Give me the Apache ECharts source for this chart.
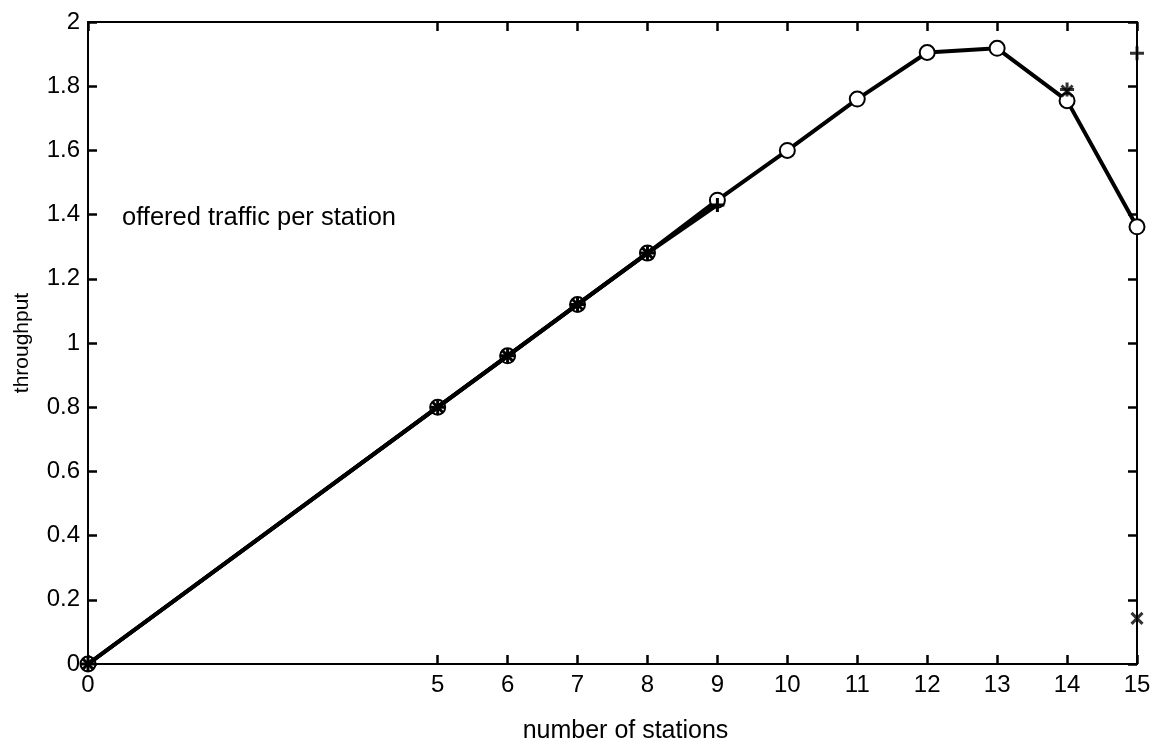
<!DOCTYPE html>
<html>
<head>
<meta charset="utf-8">
<script src="https://cdn.jsdelivr.net/npm/echarts@6/dist/echarts.min.js"></script>
<style>html,body{margin:0;padding:0;background:#fff}#c{width:1159px;height:749px}</style>
</head>
<body>
<div id="c"></div>
<script>
const xTickValues = [0, 5, 6, 7, 8, 9, 10, 11, 12, 13, 14, 15];
const circleX = [0, 5, 6, 7, 8, 9, 10, 11, 12, 13, 14, 15];
const circleY = [0, 0.80, 0.96, 1.12, 1.28, 1.445, 1.60, 1.76, 1.905, 1.918, 1.755, 1.362];
const plusX = [0, 5, 6, 7, 8, 9];
const plusY = [0, 0.80, 0.96, 1.12, 1.28, 1.43];
const plusExtraX = [14, 15];
const plusExtraY = [1.79, 1.903];
const crossX = [0, 5, 6, 7, 8];
const crossY = [0, 0.80, 0.96, 1.12, 1.28];
const crossExtraX = [14, 15];
const crossExtraY = [1.785, 0.142];
const annotation = 'offered traffic per station';
const xName = 'number of stations';
const yName = 'throughput';

const zip = (a, b) => a.map((v, i) => [v, b[i]]);
const FONT = '"Liberation Sans", Arial, sans-serif';
const PLUS = 'path://M0,5L10,5M5,0L5,10';
const CROSS = 'path://M0,0L10,10M10,0L0,10';

const chart = echarts.init(document.getElementById('c'));
const line = { show: true, onZero: false, lineStyle: { color: '#000', width: 2 } };
const tick = (custom) => {
  const t = { show: true, inside: true, length: 9, lineStyle: { color: '#000', width: 2.5 } };
  if (custom) t.customValues = custom;
  return t;
};
chart.setOption({
  animation: false,
  backgroundColor: '#fff',
  grid: { left: 88, right: 22, top: 22, bottom: 81 },
  xAxis: [
    {
      type: 'value', min: 0, max: 15, interval: 1, position: 'bottom',
      axisLine: line, axisTick: tick(xTickValues), splitLine: { show: false },
      name: xName, nameLocation: 'middle', nameGap: 55,
      nameTextStyle: { fontFamily: FONT, fontSize: 25, color: '#000', padding: [0, 0, 0, 26] },
      axisLabel: { customValues: xTickValues, fontFamily: FONT, fontSize: 24, color: '#000', margin: 9 }
    },
    {
      type: 'value', min: 0, max: 15, interval: 1, position: 'top',
      axisLine: line, axisTick: tick(xTickValues), splitLine: { show: false },
      axisLabel: { show: false }
    }
  ],
  yAxis: [
    {
      type: 'value', min: 0, max: 2, interval: 0.2, position: 'left',
      axisLine: line, axisTick: tick(), splitLine: { show: false },
      name: yName, nameLocation: 'middle', nameGap: 55, nameRotate: 90,
      nameTextStyle: { fontFamily: FONT, fontSize: 21, color: '#000' },
      axisLabel: { fontFamily: FONT, fontSize: 24, color: '#000', margin: 8 }
    },
    {
      type: 'value', min: 0, max: 2, interval: 0.2, position: 'right',
      axisLine: line, axisTick: tick(), splitLine: { show: false },
      axisLabel: { show: false }
    }
  ],
  graphic: [{
    type: 'text', left: 122, top: 205,
    style: { text: annotation, fontFamily: FONT, fontSize: 25.5, fill: '#000' }
  }],
  series: [
    {
      type: 'line', data: zip(circleX, circleY), symbol: 'emptyCircle', symbolSize: 15,
      lineStyle: { color: '#000', width: 4 },
      itemStyle: { color: '#000', borderColor: '#000', borderWidth: 3 }, z: 2
    },
    {
      type: 'line', data: zip(plusX, plusY), symbol: PLUS, symbolSize: 14,
      lineStyle: { color: '#000', width: 4 },
      itemStyle: { color: '#000', borderColor: '#000', borderWidth: 3 }, z: 3
    },
    {
      type: 'line', data: zip(crossX, crossY), symbol: CROSS, symbolSize: 11,
      lineStyle: { color: '#000', width: 4 },
      itemStyle: { color: '#000', borderColor: '#000', borderWidth: 3 }, z: 3
    },
    {
      type: 'scatter', data: zip(plusExtraX, plusExtraY), symbol: PLUS, symbolSize: 14,
      itemStyle: { color: '#000', borderColor: '#000', borderWidth: 3 }, z: 4
    },
    {
      type: 'scatter', data: zip(crossExtraX, crossExtraY), symbol: CROSS, symbolSize: 11,
      itemStyle: { color: '#000', borderColor: '#000', borderWidth: 3 }, z: 4
    }
  ]
});
</script>
</body>
</html>
